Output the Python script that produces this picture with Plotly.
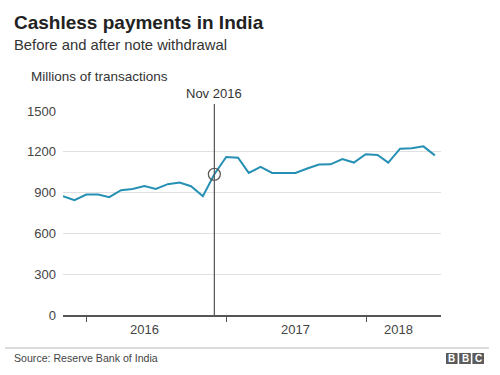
import plotly.graph_objects as go
import pandas as pd

# Data: monthly cashless transactions (millions), month-end dates
months = pd.date_range("2015-10-31", periods=33, freq="ME")
transactions = [873, 844, 886, 886, 866, 918, 927, 949, 927, 962, 974, 947,
                873, 1035, 1162, 1157, 1045, 1089, 1045, 1045, 1045, 1077, 1106,
                1108, 1147, 1121, 1182, 1177, 1121, 1223, 1226, 1240, 1174]
event_month = pd.Timestamp("2016-11-30")
event_label = "Nov 2016"
event_value = transactions[list(months).index(event_month)]
year_labels = ["2016", "2017", "2018"]
year_label_pos = ["2016-06-01", "2017-06-30", "2018-03-27"]
y_ticks = [0, 300, 600, 900, 1200, 1500]

FONT = "Liberation Sans, Arial, Helvetica, sans-serif"
L, R, T, B = 63, 59, 111, 60
W, H = 500 - L - R, 375 - T - B


def px(x):
    return (x - L) / W


def py(y):
    return (375 - B - y) / H


fig = go.Figure()
fig.add_trace(go.Scatter(x=months, y=transactions, mode="lines",
                         line=dict(color="#2690b4", width=2), hoverinfo="skip"))
fig.add_trace(go.Scatter(x=[event_month], y=[event_value], mode="markers",
                         marker=dict(symbol="circle-open", size=12,
                                     color="#555555", line=dict(width=1.2)),
                         hoverinfo="skip"))

shapes = [
    dict(type="line", xref="x", yref="paper", x0=event_month, x1=event_month,
         y0=0, y1=py(104), line=dict(color="#555555", width=1.2)),
    dict(type="line", xref="paper", yref="paper", x0=px(5), x1=px(489),
         y0=py(348), y1=py(348), line=dict(color="#bbbbbb", width=1)),
]
# BBC blocks
for i, letter in enumerate("BBC"):
    x0 = 446 + i * 13.2
    shapes.append(dict(type="rect", xref="paper", yref="paper",
                       x0=px(x0), x1=px(x0 + 11.6), y0=py(364), y1=py(353),
                       fillcolor="#5c5c5c", line=dict(width=0)))

annotations = [
    dict(text="<b>Cashless payments in India</b>", x=px(12), y=py(22),
         font=dict(size=19, color="#222222")),
    dict(text="Before and after note withdrawal", x=px(12), y=py(44.5),
         font=dict(size=14.8, color="#333333")),
    dict(text="Millions of transactions", x=px(29), y=py(77),
         font=dict(size=13.5, color="#333333")),
    dict(text="Source: Reserve Bank of India", x=px(12), y=py(358),
         font=dict(size=10.6, color="#444444")),
]
for a in annotations:
    a.update(xref="paper", yref="paper", xanchor="left", yanchor="middle",
             showarrow=False)
annotations.append(dict(text=event_label, xref="x", yref="paper", x=event_month,
                        y=py(93), xanchor="center", yanchor="middle",
                        showarrow=False, font=dict(size=13, color="#333333")))
for lbl, pos in zip(year_labels, year_label_pos):
    annotations.append(dict(text=lbl, xref="x", yref="paper", x=pos, y=py(329.5),
                            xanchor="center", yanchor="middle", showarrow=False,
                            font=dict(size=13, color="#444444")))
for i, letter in enumerate("BBC"):
    x0 = 446 + i * 13.2
    annotations.append(dict(text="<b>" + letter + "</b>", xref="paper", yref="paper",
                            x=px(x0 + 5.8), y=py(358.5), xanchor="center",
                            yanchor="middle", showarrow=False,
                            font=dict(size=10, color="white")))

fig.update_layout(
    width=500, height=375,
    margin=dict(l=L, r=R, t=T, b=B, pad=0),
    paper_bgcolor="white", plot_bgcolor="white",
    showlegend=False,
    font=dict(family=FONT, color="#444444"),
    shapes=shapes, annotations=annotations,
    xaxis=dict(type="date", range=["2015-10-31", "2018-07-16"],
               tickvals=["2016-01-01", "2017-01-01", "2018-01-01"],
               showticklabels=False, ticks="outside", ticklen=5,
               tickcolor="#555555", tickwidth=1.2,
               showgrid=False, showline=True, linecolor="#555555", linewidth=1.5,
               zeroline=False, fixedrange=True),
    yaxis=dict(range=[0, 1500], tickvals=y_ticks, showgrid=True,
               gridcolor="#e0e0e0", gridwidth=1, zeroline=False,
               showline=False, ticks="", ticklabelstandoff=6,
               tickfont=dict(size=13, color="#444444"), fixedrange=True),
)

fig.write_html("out.html",
               config={"displayModeBar": False},
               post_script="document.body.style.margin='0';document.body.style.overflow='hidden';")
